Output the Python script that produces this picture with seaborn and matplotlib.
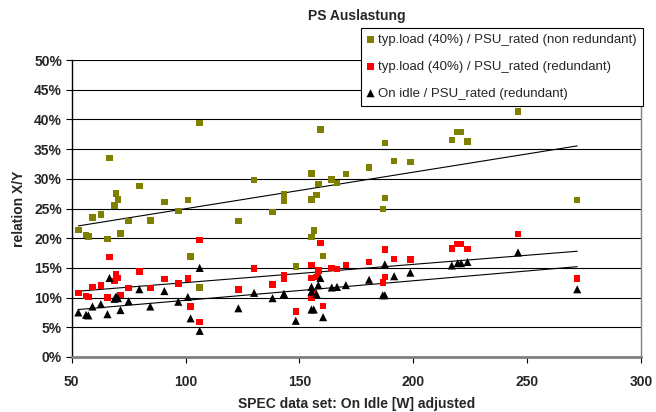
import matplotlib
matplotlib.use("Agg")
import matplotlib.pyplot as plt
import matplotlib.ticker as mticker
import numpy as np
import pandas as pd
import seaborn as sns

# ---- data ----
spec_idle = [52.9, 56.3, 57.3, 59.1, 62.8, 65.7, 66.6, 68.8, 69.5, 70.3,
             71.4, 75.0, 79.7, 84.5, 90.7, 96.8, 101.0, 102.2, 106.2, 106.2,
             123.2, 130.1, 138.2, 143.2, 143.2, 148.4, 155.3, 155.3, 155.3, 156.3,
             157.5, 158.3, 159.2, 160.4, 164.2, 166.5, 170.4, 180.6, 186.6, 187.5,
             187.5, 191.6, 198.7, 216.9, 219.5, 221.0, 223.8, 246.0, 272.0]
typ_nonred = [21.4, 20.5, 20.3, 23.5, 24.0, 19.9, 33.5, 25.5, 27.5, 26.5,
              20.8, 22.9, 28.8, 23.0, 26.1, 24.6, 26.4, 16.9, 39.4, 11.7,
              22.9, 29.8, 24.4, 27.4, 26.3, 15.2, 30.9, 26.5, 20.2, 21.3,
              27.3, 29.1, 38.3, 17.0, 29.9, 29.3, 30.8, 31.9, 24.9, 36.0,
              26.8, 33.0, 32.8, 36.5, 37.9, 37.9, 36.3, 41.3, 26.4]
typ_red = [10.8, 10.3, 10.1, 11.8, 12.0, 10.0, 16.8, 12.8, 13.9, 13.3,
           10.4, 11.6, 14.4, 11.6, 13.1, 12.4, 13.2, 8.5, 19.7, 5.9,
           11.4, 14.9, 12.2, 13.8, 13.1, 7.7, 15.5, 13.3, 10.0, 10.7,
           13.5, 14.6, 19.2, 8.6, 15.0, 14.8, 15.5, 16.0, 12.5, 18.1,
           13.5, 16.5, 16.4, 18.3, 19.0, 19.0, 18.2, 20.7, 13.2]
idle_red = [7.5, 7.1, 7.0, 8.5, 8.9, 7.2, 13.3, 9.8, 10.2, 9.9,
            7.9, 9.4, 11.4, 8.5, 11.1, 9.3, 10.1, 6.5, 15.0, 4.4,
            8.2, 10.8, 9.9, 10.6, 10.6, 6.1, 11.8, 11.0, 8.0, 8.0,
            10.6, 12.1, 13.3, 6.7, 11.7, 11.8, 12.1, 13.0, 10.4, 15.6,
            10.4, 13.6, 14.2, 15.4, 15.8, 15.8, 16.0, 17.6, 11.4]

labels = ["typ.load (40%) / PSU_rated (non redundant)",
          "typ.load (40%) / PSU_rated (redundant)",
          "On idle / PSU_rated (redundant)"]
x_ticks = [50, 100, 150, 200, 250, 300]
y_ticks = [0, 5, 10, 15, 20, 25, 30, 35, 40, 45, 50]

df = pd.DataFrame({"x": spec_idle,
                   "nonred": np.array(typ_nonred) / 100,
                   "red": np.array(typ_red) / 100,
                   "idle": np.array(idle_red) / 100})

sns.set_theme(style="white")
plt.rcParams["font.family"] = ["Liberation Sans", "DejaVu Sans"]

fig = plt.figure(figsize=(6.56, 4.12), dpi=100)
ax = fig.add_axes([71.7 / 656, 1 - 357 / 412, (641 - 71.7) / 656, (357 - 60) / 412])

series = [("nonred", "#808000", "s", 22), ("red", "#FF0000", "s", 22), ("idle", "#000000", "^", 34)]
for (col, color, marker, size), lab in zip(series, labels):
    sns.scatterplot(data=df, x="x", y=col, ax=ax, color=color, marker=marker, s=size,
                    edgecolor="none", linewidth=0, label=lab, zorder=3)
for col, _, _, _ in series:
    sns.regplot(data=df, x="x", y=col, ax=ax, scatter=False, ci=None, truncate=True,
                line_kws=dict(color="black", lw=0.8, zorder=2))

ax.set_xlim(50, 300)
ax.set_ylim(0, 0.5)
ax.set_xticks(x_ticks)
ax.set_yticks([v / 100 for v in y_ticks])
ax.yaxis.set_major_formatter(mticker.FuncFormatter(lambda v, p: f"{round(v*100):d}%"))
ax.grid(axis="y", color="black", lw=0.8)
ax.set_axisbelow(True)
for t in ax.get_xticklabels() + ax.get_yticklabels():
    t.set_fontweight("bold")
ax.tick_params(axis="both", labelsize=10, direction="out", length=4, width=0.8,
               color="black", bottom=True, left=True, pad=3)
ax.tick_params(axis="x", pad=9)

ax.spines["top"].set_visible(False)
ax.spines["left"].set_color("black")
ax.spines["left"].set_linewidth(1.0)
ax.spines["bottom"].set_color("#808080")
ax.spines["bottom"].set_linewidth(2.0)
ax.spines["right"].set_color("#808080")
ax.spines["right"].set_linewidth(1.0)

ax.set_xlabel("SPEC data set: On Idle [W] adjusted", fontsize=10, fontweight="bold", labelpad=6)
ax.set_ylabel("relation X/Y", fontsize=10, fontweight="bold", labelpad=6)
ax.set_title("PS Auslastung", fontsize=10, fontweight="bold", pad=29)

leg = ax.legend(loc="upper right", bbox_to_anchor=(643 / 656, 1 - 28 / 412),
                bbox_transform=fig.transFigure, fontsize=9.5, frameon=True,
                fancybox=False, framealpha=1, edgecolor="black", handlelength=0.6,
                handletextpad=0.3, labelspacing=1.1, borderpad=0.45, borderaxespad=0,
                markerscale=1.0)
leg.get_frame().set_linewidth(0.8)
leg.set_zorder(5)

fig.savefig("out.png", dpi=100)
